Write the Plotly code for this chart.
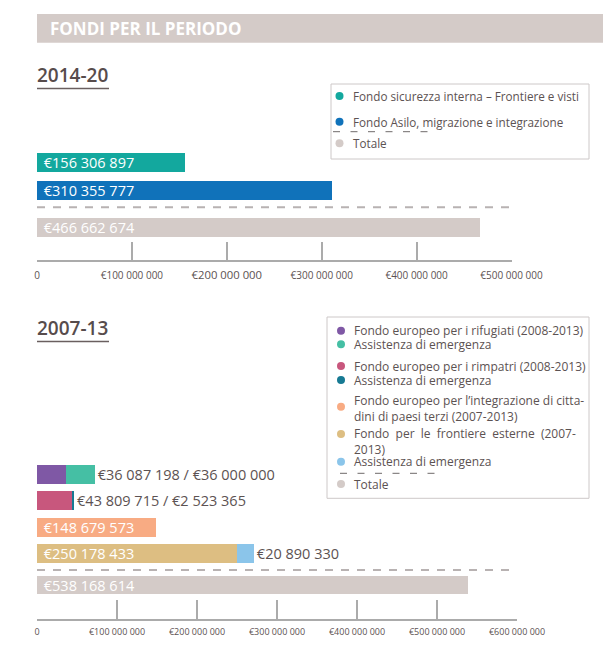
import plotly.graph_objects as go

# ------------------------------------------------------------------ data
header_title = "FONDI PER IL PERIODO"

top_period = "2014-20"
top_funds = ["Fondo sicurezza interna – Frontiere e visti",
             "Fondo Asilo, migrazione e integrazione"]
top_values = [156306897, 310355777]
top_total_label = "Totale"
top_total = 466662674
top_ticks = [0, 100e6, 200e6, 300e6, 400e6, 500e6]
top_tick_labels = ["0", "€100 000 000", "€200 000 000", "€300 000 000",
                   "€400 000 000", "€500 000 000"]

bottom_period = "2007-13"
bottom_funds = ["Fondo europeo per i rifugiati (2008-2013)",
                "Fondo europeo per i rimpatri (2008-2013)",
                "Fondo europeo per l’integrazione di cittadini di paesi terzi (2007-2013)",
                "Fondo per le frontiere esterne (2007-2013)"]
bottom_main = [36087198, 43809715, 148679573, 250178433]
bottom_emergency_label = "Assistenza di emergenza"
bottom_emergency = [36000000, 2523365, None, 20890330]
bottom_total_label = "Totale"
bottom_total = 538168614
bottom_ticks = [0, 100e6, 200e6, 300e6, 400e6, 500e6, 600e6]
bottom_tick_labels = ["0", "€100 000 000", "€200 000 000", "€300 000 000",
                      "€400 000 000", "€500 000 000", "€600 000 000"]

top_legend_labels = ["Fondo sicurezza interna – Frontiere e visti",
                     "Fondo Asilo, migrazione e integrazione",
                     "Totale"]
bottom_legend_labels = ["Fondo europeo per i rifugiati (2008-2013)",
                        "Assistenza di emergenza",
                        "Fondo europeo per i rimpatri (2008-2013)",
                        "Assistenza di emergenza",
                        "Fondo europeo per l’integrazione di citta-<br>dini di paesi terzi (2007-2013)",
                        "Fondo\u00a0\u00a0per\u00a0\u00a0le\u00a0\u00a0frontiere\u00a0\u00a0esterne\u00a0\u00a0(2007-<br>2013)",
                        "Assistenza di emergenza",
                        "Totale"]

# ------------------------------------------------------------------ style
W, H = 603, 669
FONT = "Open Sans, Noto Sans, DejaVu Sans, sans-serif"
TEXT = "#5c5252"
AXC = "#ababab"
GREY = "#d4cbc8"
top_colors = ["#13a89e", "#1072ba"]
main_colors = ["#7f58a5", "#c8577d", "#f8ab83", "#ddbe82"]
emerg_colors = ["#45bfa4", "#177a93", "#ffffff", "#8bc5ea"]
label_mode = ["combined", "combined", "inside", "split"]


def fx(x):
    return x / W


def fy(y):
    return 1 - y / H


def eur(v):
    return "€" + f"{int(v):,}".replace(",", " ")


PAD = "\u00a0"

fig = go.Figure()

# ---- 2014-20 bars
fig.add_bar(x=top_values, y=top_funds, orientation="h", xaxis="x", yaxis="y",
            marker=dict(color=top_colors, line=dict(width=0)), width=0.66,
            text=[PAD + eur(v) for v in top_values], textposition="inside",
            insidetextanchor="start", constraintext="none", cliponaxis=False,
            insidetextfont=dict(color="white", size=14.5, family=FONT),
            hoverinfo="skip")
fig.add_bar(x=[top_total], y=[top_total_label], orientation="h", xaxis="x2", yaxis="y2",
            marker=dict(color=GREY, line=dict(width=0)), width=0.5,
            text=[PAD + eur(top_total)], textposition="inside",
            insidetextanchor="start", constraintext="none", cliponaxis=False,
            insidetextfont=dict(color="white", size=14.5, family=FONT),
            hoverinfo="skip")

# ---- 2007-13 bars
main_text = [PAD + eur(v) if m in ("inside", "split") else "" for v, m in zip(bottom_main, label_mode)]
emerg_text = []
for v, e, m in zip(bottom_main, bottom_emergency, label_mode):
    if m == "combined":
        emerg_text.append(eur(v) + " / " + eur(e))
    elif m == "split":
        emerg_text.append(eur(e))
    else:
        emerg_text.append("")

fig.add_bar(x=bottom_main, y=bottom_funds, orientation="h", xaxis="x3", yaxis="y3",
            marker=dict(color=main_colors, line=dict(width=0)), width=0.71,
            text=main_text, textposition="inside", insidetextanchor="start",
            constraintext="none", cliponaxis=False,
            insidetextfont=dict(color="white", size=14.5, family=FONT),
            hoverinfo="skip")
fig.add_bar(x=bottom_emergency, y=bottom_funds, orientation="h", xaxis="x3", yaxis="y3",
            marker=dict(color=emerg_colors, line=dict(width=0)), width=0.71,
            text=emerg_text, textposition="outside", constraintext="none", cliponaxis=False,
            outsidetextfont=dict(color=TEXT, size=14.5, family=FONT),
            hoverinfo="skip")
fig.add_bar(x=[bottom_total], y=[bottom_total_label], orientation="h", xaxis="x4", yaxis="y4",
            marker=dict(color=GREY, line=dict(width=0)), width=0.61,
            text=[PAD + eur(bottom_total)], textposition="inside",
            insidetextanchor="start", constraintext="none", cliponaxis=False,
            insidetextfont=dict(color="white", size=14.5, family=FONT),
            hoverinfo="skip")

top_ticktext = [t if i != 2 else "<span style='font-size:11.3px'>" + t + "</span>"
                for i, t in enumerate(top_tick_labels)]

hidden = dict(visible=False, showgrid=False, zeroline=False, automargin=False)
axis_common = dict(showline=True, linecolor=AXC, linewidth=1.5, ticks="inside",
                   tickwidth=1.5, tickcolor=AXC, showgrid=False, zeroline=False,
                   tickmode="array", automargin=False)

fig.update_layout(
    width=W, height=H, autosize=False,
    margin=dict(l=0, r=0, t=0, b=0, pad=0, autoexpand=False),
    paper_bgcolor="white", plot_bgcolor="white",
    barmode="stack", showlegend=False, hovermode=False,
    font=dict(family=FONT, color=TEXT),
    xaxis=dict(domain=[fx(37), fx(511.5)], range=[0, 500e6], anchor="y", **hidden),
    yaxis=dict(domain=[fy(204.5), fy(148.5)], anchor="x", type="category",
               autorange="reversed", **hidden),
    xaxis2=dict(domain=[fx(37), fx(511.5)], range=[0, 500e6], anchor="free",
                position=fy(261), ticklen=18.5, tickvals=top_ticks, ticktext=top_ticktext,
                tickfont=dict(size=10, color=TEXT, family=FONT), ticklabelstandoff=5,
                **axis_common),
    yaxis2=dict(domain=[fy(246), fy(209)], anchor="x2", type="category", **hidden),
    xaxis3=dict(domain=[fx(37), fx(517)], range=[0, 600e6], anchor="y3", **hidden),
    yaxis3=dict(domain=[fy(566.7), fy(461.3)], anchor="x3", type="category",
                autorange="reversed", **hidden),
    xaxis4=dict(domain=[fx(37), fx(517)], range=[0, 600e6], anchor="free",
                position=fy(619.5), ticklen=19, tickvals=bottom_ticks,
                ticktext=bottom_tick_labels,
                tickfont=dict(size=9, color=TEXT, family=FONT), ticklabelstandoff=4,
                **axis_common),
    yaxis4=dict(domain=[fy(600), fy(570)], anchor="x4", type="category", **hidden),
)

shapes = []
annotations = []

# header band
shapes.append(dict(type="rect", xref="paper", yref="paper", x0=fx(37), x1=1,
                   y0=fy(42.7), y1=fy(14), fillcolor=GREY, line=dict(width=0), layer="below"))
annotations.append(dict(xref="paper", yref="paper", x=fx(48), y=fy(28.5),
                        xanchor="left", yanchor="middle", showarrow=False,
                        text="<b>" + header_title + "</b>",
                        font=dict(size=17, color="white", family=FONT)))

# period titles with underline
for title, ty, uy in [(top_period, 74.5, 88.5), (bottom_period, 328, 341.5)]:
    annotations.append(dict(xref="paper", yref="paper", x=fx(35), y=fy(ty),
                            xanchor="left", yanchor="middle", showarrow=False,
                            text=title, font=dict(size=19, color="#574c4c", family=FONT,
                                                  weight=600)))
    shapes.append(dict(type="line", xref="paper", yref="paper", x0=fx(37), x1=fx(109),
                       y0=fy(uy), y1=fy(uy), line=dict(color="#6a5f5f", width=1.5)))

# dashed separators above totals
for y, x1 in [(207.3, 511.5), (570, 516)]:
    shapes.append(dict(type="line", xref="paper", yref="paper", x0=fx(37), x1=fx(x1),
                       y0=fy(y), y1=fy(y), line=dict(color="#b8b2b2", width=2, dash="8px,8px")))


def legend_box(x0, y0, x1, y1):
    shapes.append(dict(type="rect", xref="paper", yref="paper", x0=fx(x0), x1=fx(x1),
                       y0=fy(y1), y1=fy(y0), line=dict(color="#cdc8c8", width=1),
                       fillcolor="rgba(0,0,0,0)"))


def legend_item(cx, cy, color, tx, ty, text, size):
    r = 4
    shapes.append(dict(type="circle", xref="paper", yref="paper",
                       x0=fx(cx - r), x1=fx(cx + r), y0=fy(cy + r), y1=fy(cy - r),
                       fillcolor=color, line=dict(width=0)))
    annotations.append(dict(xref="paper", yref="paper", x=fx(tx), y=fy(ty),
                            xanchor="left", yanchor="middle", align="left", showarrow=False,
                            text=text, font=dict(size=size, color=TEXT, family=FONT)))


def legend_dash(x0, x1, y):
    shapes.append(dict(type="line", xref="paper", yref="paper", x0=fx(x0), x1=fx(x1),
                       y0=fy(y), y1=fy(y), line=dict(color="#6f6a6a", width=1, dash="7px,10.5px")))


# top legend
legend_box(331, 84, 589, 159)
top_leg_colors = top_colors + [GREY]
for (cy, color, label) in zip([96, 121.7, 143.3], top_leg_colors, top_legend_labels):
    legend_item(339.5, cy, color, 350.5, cy, label, 11.7)
legend_dash(333, 430, 131.7)

# bottom legend
legend_box(327, 317, 589, 498.3)
bottom_leg_colors = [main_colors[0], emerg_colors[0], main_colors[1], emerg_colors[1],
                     main_colors[2], main_colors[3], emerg_colors[3], GREY]
circle_y = [330.7, 344.3, 366, 380, 406.7, 434, 461.7, 484]
text_y = [330.7, 344.3, 366, 380, 408, 441.8, 461.7, 484]
for cy, ty, color, label in zip(circle_y, text_y, bottom_leg_colors, bottom_legend_labels):
    legend_item(341, cy, color, 352.5, ty, label, 12)
legend_dash(340, 435, 473.3)

fig.update_layout(shapes=shapes, annotations=annotations)

post = (
    "document.documentElement.style.overflow='hidden';"
    "document.body.style.margin='0';document.body.style.overflow='hidden';"
)

fig.write_html("out.html", config={"displayModeBar": False}, post_script=post)
